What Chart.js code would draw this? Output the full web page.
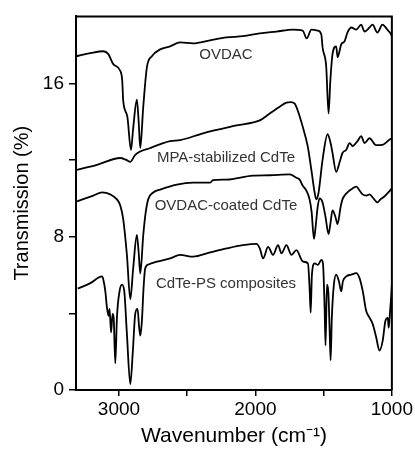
<!DOCTYPE html>
<html>
<head>
<meta charset="utf-8">
<script src="https://cdn.jsdelivr.net/npm/chart.js@4/dist/chart.umd.min.js"></script>
<style>
  html, body { margin: 0; padding: 0; background: #fff; }
  #wrap { width: 415px; height: 450px; position: relative; }
</style>
</head>
<body>
<div id="wrap"><canvas id="ftirChart"></canvas></div>
<script>
// wavenumbers (cm-1) and transmission (%)
const ovdacWn = [3312, 3210, 3115, 3078, 3042, 2990, 2976, 2969, 2939, 2912, 2896, 2869, 2855, 2844, 2822, 2795, 2759, 2698, 2625, 2552, 2457, 2333, 2211, 2092, 1968, 1846, 1727, 1654, 1624, 1590, 1544, 1517, 1508, 1481, 1464, 1451, 1435, 1408, 1398, 1371, 1347, 1325, 1298, 1261, 1225, 1201, 1164, 1142, 1106, 1069, 1033, 1006, 1000];
const ovdacT = [17.42, 17.58, 17.68, 17.53, 17.01, 16.65, 16.13, 15.10, 14.28, 12.53, 13.66, 15.15, 13.92, 12.63, 14.79, 16.86, 17.42, 17.78, 17.94, 18.14, 18.09, 18.25, 18.40, 18.47, 18.61, 18.71, 18.81, 18.76, 18.35, 18.81, 18.76, 18.56, 17.89, 16.86, 14.43, 16.13, 17.53, 17.94, 17.37, 18.04, 18.20, 18.66, 18.92, 18.81, 19.07, 18.71, 18.92, 19.07, 18.66, 19.07, 18.81, 18.56, 18.45];

const mpaWn = [3307, 3161, 2991, 2947, 2917, 2881, 2771, 2625, 2552, 2384, 2138, 1968, 1895, 1822, 1773, 1741, 1712, 1690, 1654, 1617, 1590, 1566, 1554, 1537, 1508, 1471, 1449, 1435, 1408, 1384, 1362, 1334, 1310, 1288, 1252, 1225, 1201, 1164, 1115, 1069, 1018, 1000];
const mpaT = [11.49, 11.75, 12.11, 12.01, 11.91, 12.27, 12.63, 12.99, 13.04, 13.40, 13.81, 14.07, 14.43, 14.79, 15.00, 15.03, 14.95, 14.59, 13.76, 12.73, 11.49, 10.31, 9.95, 10.31, 12.01, 13.35, 12.89, 12.37, 11.39, 11.86, 12.37, 12.54, 12.89, 12.73, 12.99, 13.25, 12.89, 13.14, 12.78, 12.80, 13.06, 13.14];

const coatedWn = [3307, 3188, 3124, 3064, 3015, 2991, 2969, 2942, 2917, 2896, 2869, 2855, 2844, 2822, 2804, 2786, 2749, 2698, 2576, 2457, 2333, 2311, 2211, 2019, 1895, 1749, 1700, 1676, 1654, 1627, 1603, 1588, 1571, 1559, 1544, 1530, 1508, 1486, 1464, 1449, 1435, 1413, 1398, 1376, 1362, 1340, 1310, 1288, 1259, 1237, 1215, 1186, 1164, 1135, 1106, 1084, 1055, 1026, 1000];
const coatedT = [9.85, 10.15, 10.31, 10.21, 9.95, 9.64, 8.92, 7.06, 4.74, 6.34, 8.09, 7.11, 6.08, 8.09, 9.28, 9.95, 10.31, 10.46, 10.72, 10.82, 10.82, 10.95, 10.98, 11.19, 11.21, 11.25, 11.08, 10.98, 10.67, 10.41, 9.95, 9.28, 7.89, 8.51, 9.54, 10.00, 9.79, 9.02, 8.14, 8.76, 9.38, 9.02, 8.66, 9.54, 9.95, 10.21, 10.41, 10.52, 10.62, 10.41, 10.21, 10.15, 10.21, 10.00, 9.79, 9.95, 10.10, 10.31, 10.52];

const psWn = [3302, 3210, 3124, 3115, 3100, 3088, 3076, 3069, 3058, 3047, 3039, 3027, 3015, 2996, 2978, 2961, 2942, 2917, 2898, 2881, 2864, 2852, 2844, 2832, 2820, 2808, 2784, 2722, 2625, 2552, 2457, 2333, 2211, 2092, 1992, 1968, 1944, 1907, 1871, 1834, 1809, 1773, 1736, 1700, 1651, 1615, 1603, 1595, 1586, 1566, 1542, 1517, 1505, 1493, 1486, 1476, 1466, 1456, 1449, 1440, 1425, 1408, 1388, 1371, 1359, 1334, 1298, 1261, 1237, 1213, 1188, 1164, 1140, 1115, 1091, 1067, 1047, 1030, 1023, 1013, 1006, 1000];
const psT = [5.29, 5.58, 5.93, 5.77, 5.15, 4.29, 3.87, 4.23, 3.01, 3.97, 3.78, 1.39, 3.78, 5.15, 5.50, 5.15, 2.94, 0.31, 2.06, 3.97, 4.23, 3.25, 2.84, 3.61, 5.31, 6.34, 6.55, 6.70, 6.87, 7.05, 6.96, 7.18, 7.39, 7.56, 7.63, 7.39, 6.87, 7.47, 7.05, 7.56, 7.13, 7.56, 7.05, 7.30, 6.70, 6.61, 5.32, 4.04, 6.02, 6.61, 6.53, 6.79, 6.61, 4.29, 2.32, 5.50, 5.15, 3.09, 1.55, 3.78, 5.50, 6.02, 5.67, 5.15, 5.67, 5.93, 6.02, 6.10, 5.84, 5.15, 4.12, 3.78, 3.44, 2.75, 2.06, 2.58, 3.61, 3.76, 3.25, 4.12, 4.79, 5.50];

const seriesNames = ['OVDAC', 'MPA-stabilized CdTe', 'OVDAC-coated CdTe', 'CdTe-PS composites'];
// where each curve label sits, in data units (wavenumber, transmission)
const labelWn = [2216, 2216, 2216, 2216];
const labelT = [17.5, 12.1, 9.6, 5.55];

const xTicks = [3000, 2500, 2000, 1500, 1000];
const xTickLabels = ['3000', '', '2000', '', '1000'];
const yTicks = [0, 4, 8, 12, 16];
const yTickLabels = ['0', '', '8', '', '16'];

const FONT = 'Arial, "Liberation Sans", sans-serif';

function toPoints(wn, t) {
  return wn.map((w, i) => ({ x: w, y: t[i] }));
}

const lineStyle = {
  borderColor: '#000',
  borderWidth: 1.8,
  pointRadius: 0,
  fill: false,
  cubicInterpolationMode: 'monotone',
};

// top/right frame plus the curve captions
const framePlugin = {
  id: 'frameAndLabels',
  afterDatasetsDraw(chart) {
    const { ctx, chartArea: a, scales } = chart;
    ctx.save();
    ctx.strokeStyle = '#000';
    ctx.lineWidth = 2;
    ctx.beginPath();
    ctx.moveTo(a.left, a.top);
    ctx.lineTo(a.right, a.top);
    ctx.lineTo(a.right, a.bottom);
    ctx.stroke();

    ctx.fillStyle = '#333';
    ctx.font = '15px ' + FONT;
    ctx.textAlign = 'center';
    ctx.textBaseline = 'middle';
    seriesNames.forEach((name, i) => {
      ctx.fillText(name, scales.x.getPixelForValue(labelWn[i]), scales.y.getPixelForValue(labelT[i]));
    });
    ctx.restore();
  }
};

const chartData = {
  datasets: [
    { label: seriesNames[0], data: toPoints(ovdacWn, ovdacT), ...lineStyle },
    { label: seriesNames[1], data: toPoints(mpaWn, mpaT), ...lineStyle },
    { label: seriesNames[2], data: toPoints(coatedWn, coatedT), ...lineStyle },
    { label: seriesNames[3], data: toPoints(psWn, psT), ...lineStyle },
  ],
};

const chartConfig = {
  type: 'line',
  data: chartData,
  options: {
    responsive: true,
    maintainAspectRatio: false,
    animation: false,
    layout: { padding: { top: 11, right: 22, left: 0, bottom: 0 } },
    plugins: {
      legend: { display: false },
      tooltip: { enabled: false },
    },
    scales: {
      x: {
        type: 'linear',
        reverse: true,
        min: 1000,
        max: 3315,
        afterBuildTicks: s => { s.ticks = xTicks.map(v => ({ value: v })); },
        afterFit: s => { s.height = 60; },
        ticks: {
          color: '#000',
          font: { family: FONT, size: 19 },
          padding: 2,
          maxRotation: 0,
          callback: v => xTickLabels[xTicks.indexOf(v)],
        },
        grid: { drawOnChartArea: false, drawTicks: true, tickLength: 6, color: '#000', lineWidth: 1.5 },
        border: { display: true, color: '#000', width: 2 },
        title: {
          display: true,
          text: 'Wavenumber (cm⁻¹)',
          color: '#000',
          font: { family: FONT, size: 21 },
          padding: { top: 0, bottom: 1 },
        },
      },
      y: {
        min: 0,
        max: 19.5,
        afterBuildTicks: s => { s.ticks = yTicks.map(v => ({ value: v })); },
        afterFit: s => { s.width = 76; },
        ticks: {
          color: '#000',
          font: { family: FONT, size: 19 },
          padding: 5,
          callback: v => yTickLabels[yTicks.indexOf(v)],
        },
        grid: { drawOnChartArea: false, drawTicks: true, tickLength: 7, color: '#000', lineWidth: 1.5 },
        border: { display: true, color: '#000', width: 2 },
        title: {
          display: true,
          text: 'Transmission (%)',
          color: '#000',
          font: { family: FONT, size: 20 },
          padding: { top: 10, bottom: 0 },
        },
      },
    },
  },
  plugins: [framePlugin],
};

new Chart(document.getElementById('ftirChart').getContext('2d'), chartConfig);
</script>
</body>
</html>
